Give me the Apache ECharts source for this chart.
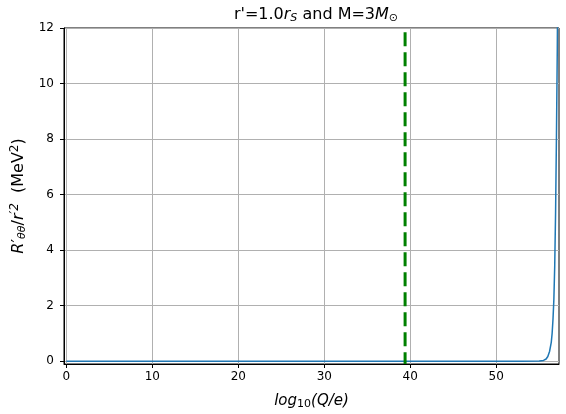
<!DOCTYPE html>
<html><head><meta charset="utf-8">
<script src="https://cdn.jsdelivr.net/npm/echarts@6/dist/echarts.min.js"></script>
<style>html,body{margin:0;padding:0;background:#fff}#c{width:566px;height:414px}</style>
</head><body><div id="c"></div>
<script>
// Curve data: x = log10(Q/e), y = R'θθ/r'^2 (MeV^2)
const curveX = [0, 5, 10, 15, 20, 25, 30, 35, 40, 45, 50, 53, 55, 55.5, 55.8, 56.0, 56.2, 56.4, 56.5, 56.6, 56.7, 56.8, 56.9, 57.0, 57.1, 57.15, 57.2, 57.3];
const curveY = [0, 0, 0, 0, 0, 0, 0, 0, 0, 0, 0, 0.001, 0.006, 0.03, 0.08, 0.17, 0.35, 0.68, 1.0, 1.5, 2.2, 3.4, 5.3, 8.0, 11.2, 13.5, 16, 22];
const vlineX = 39.4;
const vlineY = [11.85, -0.1];
const xTicks = [0, 10, 20, 30, 40, 50];
const yTicks = [0, 2, 4, 6, 8, 10, 12];

const chart = echarts.init(document.getElementById('c'));
const F = 'DejaVu Sans';
chart.setOption({
  animation: false,
  textStyle: {fontFamily: F},
  title: {
    text: "{n|r'=1.0}{i|r}{sub|S}{n| and M=3}{i|M}{sub|⊙}",
    left: 311, top: 1, textAlign: 'center',
    textStyle: {
      fontWeight: 'normal',
      rich: {
        n: {fontFamily: F, fontSize: 16, fontWeight: 'normal', color: '#000'},
        i: {fontFamily: F, fontSize: 16, fontWeight: 'normal', fontStyle: 'italic', color: '#000'},
        sub: {fontFamily: F, fontSize: 11, fontWeight: 'normal', fontStyle: 'italic', color: '#000', padding: [7, 0, 0, 0]}
      }
    }
  },
  grid: {left: 64, right: 7, top: 28, bottom: 50, show: true, borderColor: '#000', borderWidth: 1, backgroundColor: 'transparent', outerBoundsMode: 'none', containLabel: false},
  xAxis: {
    type: 'value', min: -0.27, max: 57.3,
    axisLine: {onZero: false, lineStyle: {color: '#000', width: 1}},
    axisTick: {show: true, length: 4, customValues: xTicks, lineStyle: {color: '#000'}},
    axisLabel: {customValues: xTicks, color: '#000', fontSize: 12, fontFamily: F, margin: 7},
    splitLine: {show: true, lineStyle: {color: '#b0b0b0', width: 1}},
    name: '{i|log}{sub|10}{i|(Q/e)}', nameLocation: 'middle', nameGap: 28,
    nameTextStyle: {
      rich: {
        i: {fontFamily: F, fontSize: 15, fontStyle: 'italic', color: '#000'},
        sub: {fontFamily: F, fontSize: 11, color: '#000', padding: [7, 0, 0, 0]}
      }
    }
  },
  yAxis: {
    type: 'value', min: -0.1, max: 12,
    axisLine: {onZero: false, lineStyle: {color: '#000', width: 1}},
    axisTick: {show: true, length: 4, customValues: yTicks, lineStyle: {color: '#000'}},
    axisLabel: {customValues: yTicks, color: '#000', fontSize: 12, fontFamily: F, margin: 10},
    splitLine: {show: true, lineStyle: {color: '#b0b0b0', width: 1}},
    name: "{i|R}{n|′}{sub|θθ}{n|/}{i|r}{sup|′2}{n|  (MeV}{sup2|2}{n|)}",
    nameLocation: 'middle', nameGap: 29, nameRotate: 90,
    nameTextStyle: {
      rich: {
        n: {fontFamily: F, fontSize: 16, color: '#000'},
        i: {fontFamily: F, fontSize: 16, fontStyle: 'italic', color: '#000'},
        sub: {fontFamily: F, fontSize: 11, fontStyle: 'italic', color: '#000', padding: [7, 0, 0, 0]},
        sup: {fontFamily: F, fontSize: 12, fontStyle: 'italic', color: '#000', padding: [0, 0, 7, 0]},
        sup2: {fontFamily: F, fontSize: 12, color: '#000', padding: [0, 0, 7, 0]}
      }
    }
  },
  series: [
    {
      type: 'line', data: curveX.map((x, i) => [x, curveY[i]]),
      showSymbol: false, smooth: false, clip: true,
      lineStyle: {color: '#1f77b4', width: 1.5}
    },
    {
      type: 'line', data: vlineY.map(y => [vlineX, y]),
      showSymbol: false, clip: true,
      lineStyle: {color: '#008000', width: 3, type: [14, 6]}
    }
  ]
});
</script></body></html>
